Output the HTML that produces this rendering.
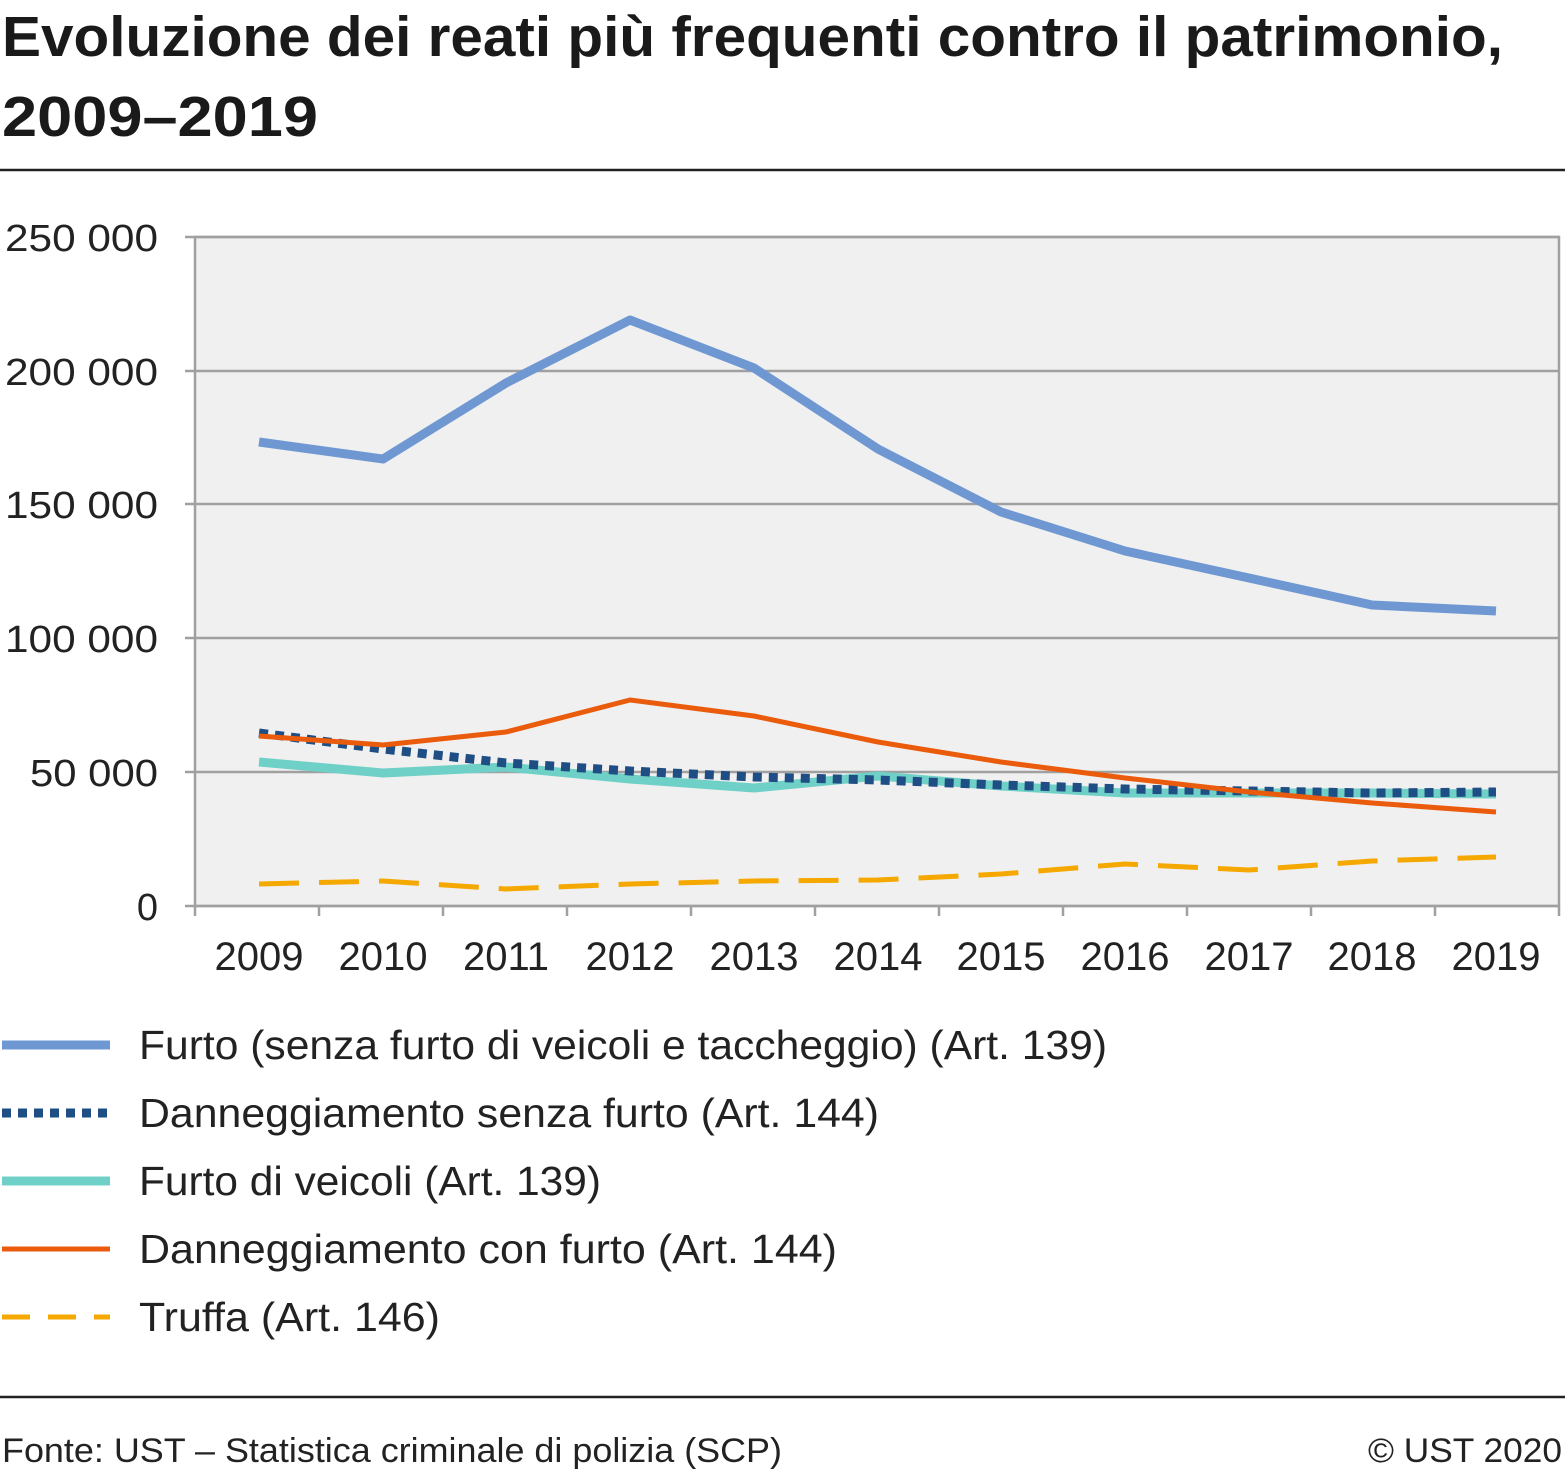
<!DOCTYPE html>
<html><head><meta charset="utf-8"><style>
body{margin:0;background:#fff;font-family:"Liberation Sans",sans-serif;}
</style></head><body>
<svg width="1565" height="1472" xmlns="http://www.w3.org/2000/svg" font-family="Liberation Sans, sans-serif">
<text x="2" y="56" font-size="57" font-weight="bold" fill="#1a1a1a" textLength="1501" lengthAdjust="spacingAndGlyphs">Evoluzione dei reati più frequenti contro il patrimonio,</text>
<text x="2" y="136" font-size="57" font-weight="bold" fill="#1a1a1a" textLength="316" lengthAdjust="spacingAndGlyphs">2009–2019</text>
<line x1="0" y1="170" x2="1565" y2="170" stroke="#222" stroke-width="2.5"/>
<rect x="195" y="237" width="1364" height="669" fill="#f0f0f0" stroke="#a0a0a0" stroke-width="2.5"/>
<g stroke="#a0a0a0" stroke-width="2.5">
<line x1="185" y1="237" x2="1559" y2="237"/>
<line x1="185" y1="371" x2="1559" y2="371"/>
<line x1="185" y1="504" x2="1559" y2="504"/>
<line x1="185" y1="638" x2="1559" y2="638"/>
<line x1="185" y1="772" x2="1559" y2="772"/>
<line x1="185" y1="906" x2="1559" y2="906"/>
<path d="M195 906v10M319 906v10M443 906v10M567 906v10M691 906v10M815 906v10M939 906v10M1063 906v10M1187 906v10M1311 906v10M1435 906v10M1559 906v10"/>
</g>
<g font-size="38" fill="#222" text-anchor="end">
<text x="158" y="251" textLength="153" lengthAdjust="spacingAndGlyphs">250 000</text><text x="158" y="385" textLength="153" lengthAdjust="spacingAndGlyphs">200 000</text><text x="158" y="518" textLength="153" lengthAdjust="spacingAndGlyphs">150 000</text>
<text x="158" y="652" textLength="153" lengthAdjust="spacingAndGlyphs">100 000</text><text x="158" y="786" textLength="128" lengthAdjust="spacingAndGlyphs">50 000</text><text x="158" y="920">0</text>
</g>
<g font-size="40" fill="#222" text-anchor="middle">
<text x="259" y="970">2009</text><text x="383" y="970">2010</text><text x="506" y="970">2011</text><text x="630" y="970">2012</text><text x="754" y="970">2013</text><text x="878" y="970">2014</text><text x="1001" y="970">2015</text><text x="1125" y="970">2016</text><text x="1249" y="970">2017</text><text x="1372" y="970">2018</text><text x="1496" y="970">2019</text>
</g>
<g fill="none" stroke-linejoin="round">
<polyline stroke="#6fd0c7" stroke-width="9" points="259,762 383,773 506,767 630,779 754,788 878,776 1001,786 1125,793 1249,793 1372,793 1496,794"/>
<polyline stroke="#1f4e85" stroke-width="9" stroke-dasharray="9,7" points="259,733 383,749 506,763 630,771 754,777 878,780 1001,785 1125,789 1249,791 1372,793 1496,792"/>
<polyline stroke="#ea5b0c" stroke-width="5" points="259,736 383,745 506,732 630,700 754,716 878,742 1001,762 1125,778 1249,792 1372,803 1496,812"/>
<polyline stroke="#f5a800" stroke-width="5" stroke-dasharray="40,20" points="259,884 383,881 506,889 630,884 754,881 878,880 1001,874 1125,864 1249,870 1372,861 1496,857"/>
<polyline stroke="#6f98d3" stroke-width="9" points="259,442 383,459 506,383 630,320 754,368 878,449 1001,512 1125,551 1249,578 1372,605 1496,611"/>
</g>
<line x1="2" y1="1045" x2="110" y2="1045" stroke="#6f98d3" stroke-width="9"/>
<line x1="2" y1="1113" x2="110" y2="1113" stroke="#1f4e85" stroke-width="9" stroke-dasharray="9,7"/>
<line x1="2" y1="1181" x2="110" y2="1181" stroke="#6fd0c7" stroke-width="9"/>
<line x1="2" y1="1249" x2="110" y2="1249" stroke="#ea5b0c" stroke-width="5"/>
<line x1="2" y1="1317" x2="110" y2="1317" stroke="#f5a800" stroke-width="5" stroke-dasharray="28,18"/>
<g font-size="41" fill="#222" lengthAdjust="spacingAndGlyphs">
<text x="139" y="1059" textLength="968" lengthAdjust="spacingAndGlyphs">Furto (senza furto di veicoli e taccheggio) (Art. 139)</text>
<text x="139" y="1127" textLength="740" lengthAdjust="spacingAndGlyphs">Danneggiamento senza furto (Art. 144)</text>
<text x="139" y="1195" textLength="462" lengthAdjust="spacingAndGlyphs">Furto di veicoli (Art. 139)</text>
<text x="139" y="1263" textLength="698" lengthAdjust="spacingAndGlyphs">Danneggiamento con furto (Art. 144)</text>
<text x="139" y="1331" textLength="301" lengthAdjust="spacingAndGlyphs">Truffa (Art. 146)</text>
</g>
<line x1="0" y1="1397" x2="1565" y2="1397" stroke="#222" stroke-width="2.5"/>
<text x="2" y="1462" font-size="34" fill="#222" textLength="780" lengthAdjust="spacingAndGlyphs">Fonte: UST – Statistica criminale di polizia (SCP)</text>
<text x="1562" y="1462" font-size="34" fill="#222" text-anchor="end" textLength="194" lengthAdjust="spacingAndGlyphs">© UST 2020</text>
</svg>
</body></html>
